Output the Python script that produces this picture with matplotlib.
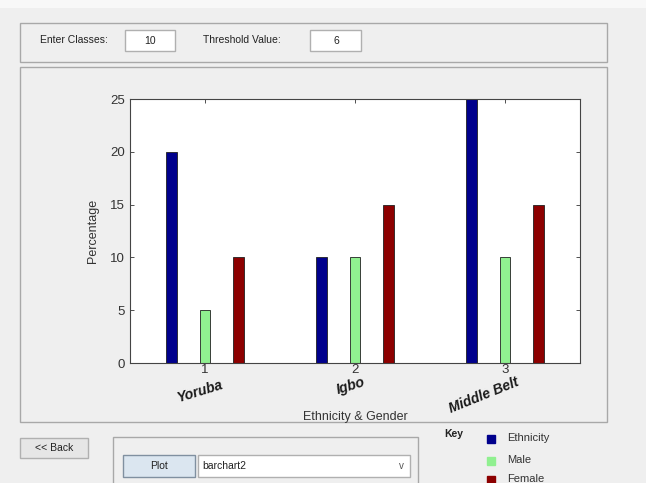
import matplotlib.pyplot as plt
from matplotlib.patches import Rectangle
from matplotlib.lines import Line2D

# data
groups = [1, 2, 3]
group_names = ["Yoruba", "Igbo", "Middle Belt"]
series = ["Ethnicity", "Male", "Female"]
ethnicity = [20, 10, 25]
male = [5, 10, 10]
female = [10, 15, 15]
colors = ["#00008c", "#90f090", "#8c0000"]

W, H = 646, 483
plt.rcParams['font.family'] = ['Liberation Sans', 'DejaVu Sans']
fig = plt.figure(figsize=(W / 100, H / 100), dpi=100)
fig.patch.set_facecolor("#efefef")


def box(x0, y0, x1, y1, fc="none", ec="#a8a8a8", lw=1.0, z=0):
    # pixel coords from the top-left corner
    r = Rectangle((x0 / W, 1 - y1 / H), (x1 - x0) / W, (y1 - y0) / H,
                  transform=fig.transFigure, facecolor=fc, edgecolor=ec,
                  linewidth=lw, zorder=z)
    fig.add_artist(r)


def txt(x, y, s, **kw):
    fig.text(x / W, 1 - y / H, s, **kw)


# top strip
box(0, 0, W, 8, fc="#f8f8f8", ec="none")

# top panel
box(20, 23, 607, 62)
txt(40, 40, "Enter Classes:", fontsize=7.5, va="center", color="#222222")
box(125, 30, 175, 51, fc="white", ec="#b0b0b0")
txt(150, 41, "10", fontsize=7.5, va="center", ha="center", color="#222222")
txt(203, 40, "Threshold Value:", fontsize=7.5, va="center", color="#222222")
box(310, 30, 361, 51, fc="white", ec="#b0b0b0")
txt(336, 41, "6", fontsize=7.5, va="center", ha="center", color="#222222")

# plot panel
box(20, 67, 607, 422)

# axes
ax = fig.add_axes([130 / W, 1 - 363 / H, 450 / W, 264 / H])
bw = 0.072
off = 0.223
for vals, col, k in zip([ethnicity, male, female], colors, [-1, 0, 1]):
    ax.bar([g + k * off for g in groups], vals, width=bw, color=col,
           edgecolor="#202020", linewidth=0.6, zorder=2)
ax.set_xlim(0.5, 3.5)
ax.set_ylim(0, 25)
ax.set_yticks([0, 5, 10, 15, 20, 25])
ax.set_xticks(groups)
ax.tick_params(direction="in", length=3, labelsize=9.5, colors="#333333",
               top=True, right=True, width=0.6)
ax.tick_params(axis="x", pad=1)
for s in ax.spines.values():
    s.set_color("#444444")
    s.set_linewidth(0.8)
ax.set_ylabel("Percentage", fontsize=9, color="#333333", labelpad=8)
ax.set_xlabel("Ethnicity & Gender", fontsize=9, color="#333333", labelpad=25)

# group names under ticks
name_pos = [(200, 391, 17), (351, 386, 17), (484, 395, 22)]
for (x, y, rot), name in zip(name_pos, group_names):
    txt(x, y, name, fontsize=10, fontweight="bold", fontstyle="italic",
        ha="center", va="center", rotation=rot, color="#1a1a1a")

# bottom controls
box(20, 438, 88, 458, fc="#e6e6e6", ec="#b0b0b0")
txt(54, 448, "<< Back", fontsize=7.5, ha="center", va="center", color="#222222")
box(113, 437, 418, 490)
box(123, 455, 195, 477, fc="#dbe6f0", ec="#8090a0")
txt(159, 466, "Plot", fontsize=7.5, ha="center", va="center", color="#222222")
box(198, 455, 410, 477, fc="white", ec="#b0b0b0")
txt(202, 466, "barchart2", fontsize=7.5, va="center", color="#222222")
txt(401, 466, "v", fontsize=7, ha="center", va="center", color="#555555")

# key
txt(444, 434, "Key", fontsize=7.5, fontweight="bold", va="center", color="#222222")
key_y = [439, 461, 480]
for name, col, y in zip(series, colors, key_y):
    fig.add_artist(Line2D([491 / W], [1 - y / H], marker="s", markersize=5.5,
                          color=col, transform=fig.transFigure))
    txt(507, y - 1, name, fontsize=8, va="center", color="#333333")

fig.savefig("out.png", dpi=100, facecolor=fig.get_facecolor())
